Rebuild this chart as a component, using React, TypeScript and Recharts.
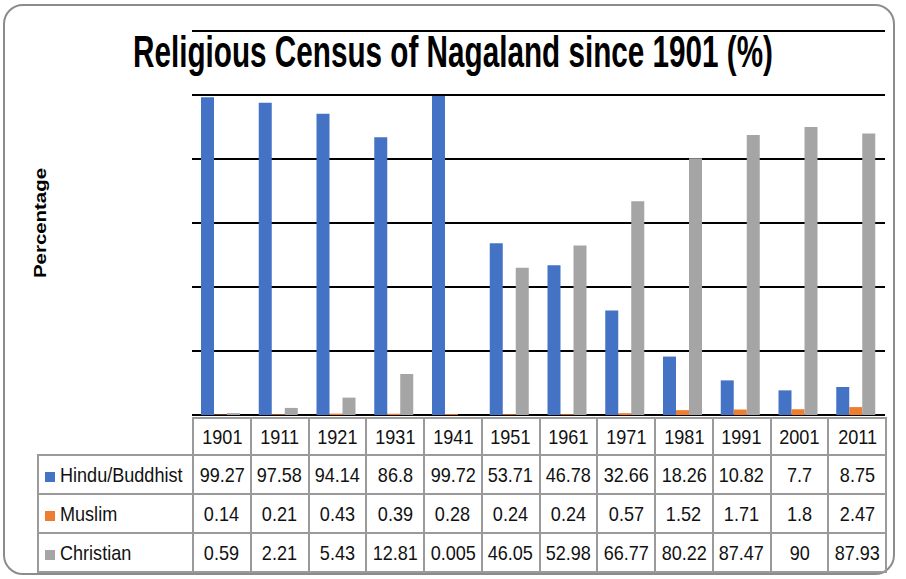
import React from 'react';
import { BarChart, Bar, XAxis, YAxis, CartesianGrid } from 'recharts';

const years = ['1901', '1911', '1921', '1931', '1941', '1951', '1961', '1971', '1981', '1991', '2001', '2011'];
const hindu = [99.27, 97.58, 94.14, 86.8, 99.72, 53.71, 46.78, 32.66, 18.26, 10.82, 7.7, 8.75];
const muslim = [0.14, 0.21, 0.43, 0.39, 0.28, 0.24, 0.24, 0.57, 1.52, 1.71, 1.8, 2.47];
const christian = [0.59, 2.21, 5.43, 12.81, 0.005, 46.05, 52.98, 66.77, 80.22, 87.47, 90, 87.93];
const yTicks = [0, 20, 40, 60, 80, 100, 120];

const seriesRows = [
  { key: 'hindu', name: 'Hindu/Buddhist', color: '#4472C4', values: hindu },
  { key: 'muslim', name: 'Muslim', color: '#ED7D31', values: muslim },
  { key: 'christian', name: 'Christian', color: '#A5A5A5', values: christian },
];

const data = years.map((year, i) => ({
  year,
  hindu: hindu[i],
  muslim: muslim[i],
  christian: christian[i],
}));

const tableFont = '"Liberation Sans", Arial, sans-serif';
const cellBorder = '2px solid #9a9a9a';

// squeeze Arial-ish glyphs toward the narrower Calibri look
function Narrow({ children, origin = 'center' }: { children: React.ReactNode; origin?: string }) {
  return (
    <span style={{ display: 'inline-block', transform: 'scaleX(0.86)', transformOrigin: origin, whiteSpace: 'nowrap' }}>
      {children}
    </span>
  );
}

export default function App() {
  const plotLeft = 192;
  const plotRight = 885;
  const colW = (plotRight - plotLeft) / years.length;
  const labelW = plotLeft - 37;

  return (
    <div style={{ position: 'fixed', left: 0, top: 0, width: 906, height: 579, background: '#fff' }}>
      <div
        style={{
          position: 'absolute',
          left: 3,
          top: 4,
          width: 888,
          height: 567,
          border: '2px solid #8c8c8c',
          borderRadius: 20,
        }}
      />
      <BarChart
        width={906}
        height={579}
        data={data}
        margin={{ top: 31, right: 906 - plotRight, left: plotLeft, bottom: 164 }}
        barGap={0}
        barSize={13}
      >
        <CartesianGrid vertical={false} stroke="#000" strokeWidth={2} />
        <XAxis dataKey="year" hide />
        <YAxis hide domain={[0, 120]} ticks={yTicks} />
        {seriesRows.map((s) => (
          <Bar key={s.key} dataKey={s.key} name={s.name} fill={s.color} isAnimationActive={false} />
        ))}
      </BarChart>
      <svg width={906} height={579} style={{ position: 'absolute', left: 0, top: 0, pointerEvents: 'none' }}>
        <text
          x={453}
          y={67}
          textAnchor="middle"
          textLength={640}
          lengthAdjust="spacingAndGlyphs"
          fontFamily='"Liberation Sans", Arial, sans-serif'
          fontWeight="bold"
          fontSize={45}
          fill="#000"
        >
          Religious Census of Nagaland since 1901 (%)
        </text>
        <text
          transform="translate(46, 223) rotate(-90)"
          textAnchor="middle"
          textLength={110}
          lengthAdjust="spacingAndGlyphs"
          fontFamily='"Liberation Sans", Arial, sans-serif'
          fontWeight="bold"
          fontSize={16}
          fill="#000"
        >
          Percentage
        </text>
      </svg>
      <table
        style={{
          position: 'absolute',
          left: 37,
          top: 417,
          width: plotRight - 37,
          borderCollapse: 'collapse',
          tableLayout: 'fixed',
          fontFamily: tableFont,
          fontSize: 21,
          color: '#111',
        }}
      >
        <colgroup>
          <col style={{ width: labelW }} />
          {years.map((y) => (
            <col key={y} style={{ width: colW }} />
          ))}
        </colgroup>
        <tbody>
          <tr style={{ height: 37 }}>
            <td style={{ padding: 0 }} />
            {years.map((y) => (
              <td key={y} style={{ border: cellBorder, textAlign: 'center', padding: 0 }}>
                <Narrow>{y}</Narrow>
              </td>
            ))}
          </tr>
          {seriesRows.map((s) => (
            <tr key={s.key} style={{ height: 39 }}>
              <td style={{ border: cellBorder, padding: '0 0 0 6px', whiteSpace: 'nowrap', overflow: 'hidden' }}>
                <span
                  style={{
                    display: 'inline-block',
                    width: 10,
                    height: 10,
                    background: s.color,
                    marginRight: 5,
                  }}
                />
                <Narrow origin="left">{s.name}</Narrow>
              </td>
              {s.values.map((v, i) => (
                <td key={i} style={{ border: cellBorder, textAlign: 'center', padding: 0, whiteSpace: 'nowrap' }}>
                  <Narrow>{String(v)}</Narrow>
                </td>
              ))}
            </tr>
          ))}
        </tbody>
      </table>
    </div>
  );
}
